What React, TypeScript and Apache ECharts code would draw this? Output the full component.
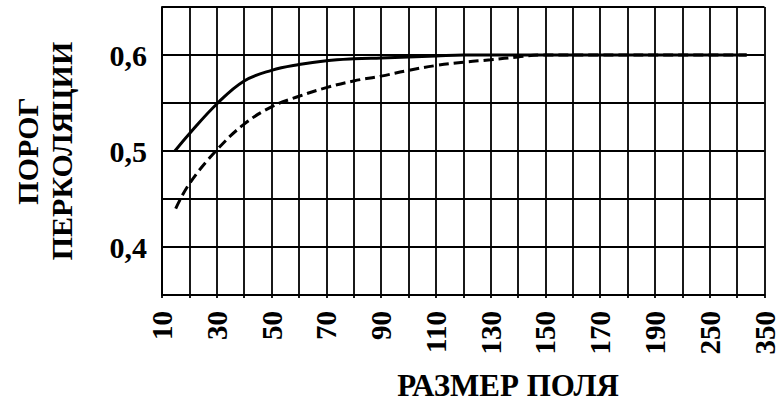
import React, { useEffect, useRef } from "react";
import * as echarts from "echarts";

// X tick labels, shown on every second grid line (positions 0, 2, 4, ..., 22)
const xTickLabels = ["10", "30", "50", "70", "90", "110", "130", "150", "170", "190", "250", "350"];
// Y tick labels
const yTickValues = [0.4, 0.5, 0.6];
const yTickLabels = ["0,4", "0,5", "0,6"];

// Solid curve: positions on the x grid (one unit per grid column) and threshold values
const solidPos = [0.47, 1, 2, 3, 4, 5, 6, 7, 8, 9, 10, 11, 14, 18, 21.35];
const solidVal = [0.5, 0.518, 0.549, 0.573, 0.584, 0.59, 0.594, 0.596, 0.597, 0.598, 0.599, 0.6, 0.6, 0.6, 0.6];

// Dashed curve
const dashPos = [0.5, 1, 2, 3, 4, 5, 6, 7, 8, 9, 10, 11, 12, 13, 13.8, 16, 19, 21.35];
const dashVal = [0.44, 0.466, 0.501, 0.528, 0.546, 0.557, 0.566, 0.573, 0.578, 0.584, 0.589, 0.5925, 0.595, 0.598, 0.6, 0.6, 0.6, 0.6];

const FONT = '"Liberation Serif", "Times New Roman", serif';

export default function App() {
  const ref = useRef<HTMLDivElement>(null);

  useEffect(() => {
    if (!ref.current) return;
    const chart = echarts.init(ref.current, null, { renderer: "svg" });
    const gridLine = { color: "#000", width: 1.8 };
    chart.setOption({
      animation: false,
      backgroundColor: "#fff",
      grid: { left: 162, right: 9, top: 7, bottom: 107, containLabel: false },
      xAxis: {
        type: "value",
        min: 0,
        max: 22,
        interval: 1,
        axisLine: { show: true, lineStyle: { color: "#000", width: 2 } },
        axisTick: { show: true, length: 3, lineStyle: { color: "#000", width: 1.8 } },
        splitLine: { show: true, lineStyle: gridLine },
        axisLabel: {
          rotate: 90,
          margin: 16,
          color: "#000",
          fontFamily: FONT,
          fontWeight: "bold",
          fontSize: 29,
          showMinLabel: true,
          showMaxLabel: true,
          formatter: (v: number) => {
            const i = Math.round(v);
            return i % 2 === 0 ? xTickLabels[i / 2] ?? "" : "";
          },
        },
      },
      yAxis: {
        type: "value",
        min: 0.35,
        max: 0.65,
        interval: 0.05,
        name: "ПОРОГ\nПЕРКОЛЯЦИИ",
        nameLocation: "middle",
        nameRotate: 90,
        nameGap: 84,
        nameTextStyle: {
          color: "#000",
          fontFamily: FONT,
          fontWeight: "bold",
          fontSize: 30,
          lineHeight: 34,
        },
        axisLine: { show: true, lineStyle: { color: "#000", width: 2 } },
        axisTick: { show: false },
        splitLine: { show: true, lineStyle: gridLine },
        axisLabel: {
          margin: 15,
          color: "#000",
          fontFamily: FONT,
          fontWeight: "bold",
          fontSize: 30,
          formatter: (v: number) => {
            const k = yTickValues.findIndex((t) => Math.abs(t - v) < 1e-6);
            return k >= 0 ? yTickLabels[k] : "";
          },
        },
      },
      graphic: [
        {
          type: "text",
          x: 508,
          y: 385,
          style: {
            text: "РАЗМЕР ПОЛЯ",
            font: `bold 31px ${FONT}`,
            fill: "#000",
            align: "center",
            verticalAlign: "middle",
          },
        },
      ],
      series: [
        {
          type: "line",
          data: solidPos.map((p, i) => [p, solidVal[i]]),
          smooth: 0.4,
          showSymbol: false,
          lineStyle: { color: "#000", width: 3 },
          z: 5,
        },
        {
          type: "line",
          data: dashPos.map((p, i) => [p, dashVal[i]]),
          smooth: 0.4,
          showSymbol: false,
          lineStyle: { color: "#000", width: 3, type: [10, 5] },
          z: 5,
        },
      ],
    });
    return () => chart.dispose();
  }, []);

  return (
    <div
      ref={ref}
      style={{ position: "fixed", left: 0, top: 0, width: 779, height: 402 }}
    />
  );
}
